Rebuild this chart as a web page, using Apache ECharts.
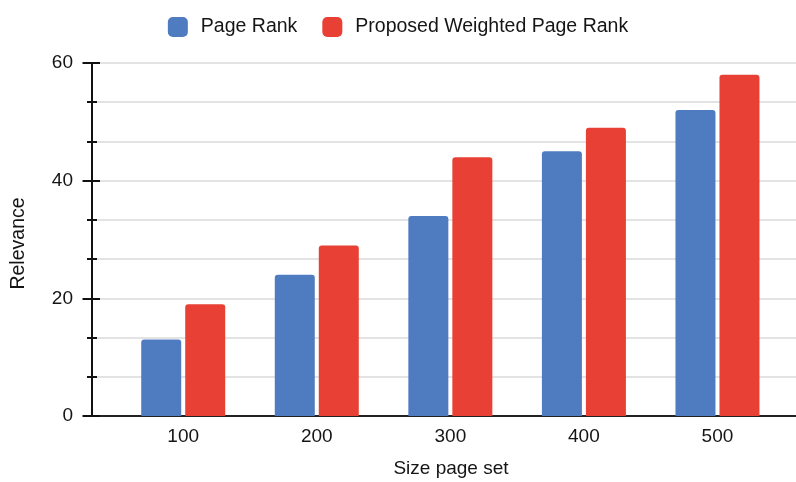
<!DOCTYPE html>
<html>
<head>
<meta charset="utf-8">
<script src="https://cdn.jsdelivr.net/npm/echarts@6/dist/echarts.min.js"></script>
<style>
  html, body { margin: 0; padding: 0; background: #fff; }
  #chart { width: 796px; height: 482px; }
</style>
</head>
<body>
<div id="chart"></div>
<script>
// Page-set sizes and relevance scores
const pageSetSizes = [100, 200, 300, 400, 500];
const pageRank = [13, 24, 34, 45, 52];
const weightedPageRank = [19, 29, 44, 49, 58];
const seriesNames = ['Page Rank', 'Proposed Weighted Page Rank'];
const yTicks = [0, 20, 40, 60];

const FONT = "'Liberation Sans', Arial, sans-serif";
const TEXT = '#151515';
const GRID_LINE = { color: '#dadada', width: 1.5 };

const pairs = vals => pageSetSizes.map((s, i) => [s, vals[i]]);

const yBase = {
  type: 'value',
  position: 'left',
  min: yTicks[0],
  max: yTicks[yTicks.length - 1],
  interval: yTicks[1] - yTicks[0],
  minorTick: { show: true, splitNumber: 3, lineStyle: { color: '#111', width: 2 } }
};

const chart = echarts.init(document.getElementById('chart'));
chart.setOption({
  animation: false,
  textStyle: { fontFamily: FONT },
  legend: {
    top: 12,
    left: 'center',
    itemWidth: 20,
    itemHeight: 20,
    itemGap: 25,
    icon: 'roundRect',
    textStyle: { fontSize: 19.5, color: TEXT, fontFamily: FONT, padding: [0, 0, 0, 8] },
    data: seriesNames
  },
  grid: { left: 92, right: 0, top: 63, bottom: 66, containLabel: false, outerBoundsMode: 'none' },
  xAxis: {
    type: 'value',
    min: 31.7,
    max: 558.8,
    name: 'Size page set',
    nameLocation: 'middle',
    nameGap: 43,
    nameTextStyle: { fontSize: 19, color: TEXT, fontFamily: FONT, padding: [0, 0, 0, 14] },
    axisLine: { show: true, onZero: false, lineStyle: { color: '#222', width: 2 } },
    axisTick: { show: false },
    splitLine: { show: false },
    axisLabel: {
      customValues: pageSetSizes,
      margin: 11,
      fontSize: 19,
      color: TEXT,
      fontFamily: FONT
    }
  },
  yAxis: [
    Object.assign({}, yBase, {
      name: 'Relevance',
      nameLocation: 'middle',
      nameGap: 63,
      nameRotate: 90,
      nameTextStyle: { fontSize: 19.5, color: TEXT, fontFamily: FONT, padding: [0, 0, 0, -8] },
      axisLine: { show: true, lineStyle: { color: '#111', width: 2 } },
      axisTick: { show: true, length: 9.5, lineStyle: { color: '#111', width: 2 } },
      minorTick: Object.assign({}, yBase.minorTick, { length: 5 }),
      axisLabel: { margin: 19, fontSize: 19, color: TEXT, fontFamily: FONT },
      splitLine: { show: true, lineStyle: GRID_LINE },
      minorSplitLine: { show: true, lineStyle: GRID_LINE }
    }),
    // inward half of the tick marks, so they cross the axis line
    Object.assign({}, yBase, {
      axisLine: { show: false },
      axisTick: { show: true, inside: true, length: 8, lineStyle: { color: '#111', width: 2 } },
      minorTick: Object.assign({}, yBase.minorTick, { length: 5 }),
      axisLabel: { show: false },
      splitLine: { show: false },
      minorSplitLine: { show: false }
    })
  ],
  series: [
    {
      name: seriesNames[0],
      type: 'bar',
      yAxisIndex: 0,
      barWidth: 40,
      barGap: '10%',
      itemStyle: { color: '#4f7bc1', borderRadius: [3, 3, 0, 0] },
      data: pairs(pageRank)
    },
    {
      name: seriesNames[1],
      type: 'bar',
      yAxisIndex: 0,
      barWidth: 40,
      barGap: '10%',
      itemStyle: { color: '#e84034', borderRadius: [3, 3, 0, 0] },
      data: pairs(weightedPageRank)
    }
  ]
});
</script>
</body>
</html>
